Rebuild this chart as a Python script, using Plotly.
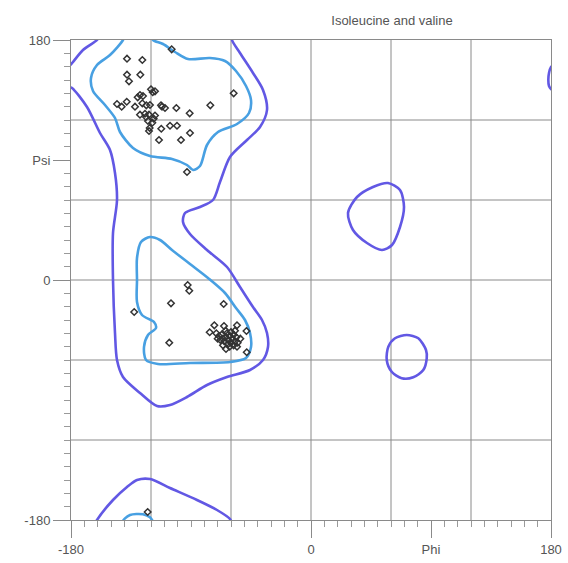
import plotly.graph_objects as go

title_text = "Isoleucine and valine"
x_tick_vals = [-180, 0, 90, 180]
x_tick_text = ["-180", "0", "Phi", "180"]
y_tick_vals = [-180, 0, 90, 180]
y_tick_text = ["-180", "0", "Psi", "180"]
grid_vals = [-120, -60, 0, 60, 120]

# Outer (dark) contour pieces
outer_main_phi = [-159.5, -160.5, -171, -178.5, -182, -182, -179.25, -168, -158.25, -150.75, -147, -145.5,
                  -148.5, -148.5, -147, -145.5, -141, -128.25, -115.5, -105.75, -93, -78, -63, -45.75, -36,
                  -32.25, -33, -36.75, -43.5, -53.25, -63, -78, -90.75, -96, -94.5, -83.25, -73.5, -68.25,
                  -60.75, -48, -38.25, -33, -36, -43.5, -53.25, -59.25, -58.5]
outer_main_psi = [182, 180, 172.5, 163.5, 159, 145, 144, 129.75, 110.25, 97.5, 80.25, 60,
                  35.25, 0, -39.75, -60, -72.75, -84.75, -94.5, -93.75, -87.75, -78.75, -72.75, -67.5, -60,
                  -50.25, -39.75, -30, -20.25, -5.25, 9.75, 22.5, 34.5, 43.5, 50.25, 54.75, 60, 73.5,
                  92.25, 105, 114.75, 127.5, 142.5, 155.25, 170.25, 180, 182]
outer_bottom_phi = [-161.5, -160.5, -148.5, -138, -130.5, -120.75, -105.75, -85.5, -70.5, -60.75, -59.5]
outer_bottom_psi = [-182, -180, -165, -155.25, -150, -149.25, -156, -165, -172.5, -179.25, -182]
outer_edge_phi = [182, 180, 178.5, 178, 178.5, 180, 182]
outer_edge_psi = [161, 159.75, 155.25, 150, 145.5, 143.25, 142]
outer_island_phi = [57.75, 46.5, 34.5, 27.75, 31.5, 42, 53.25, 60.75, 66.75, 69.75, 66.75, 57.75]
outer_island_psi = [72.75, 69.75, 62.25, 50.25, 37.5, 27.75, 22.5, 26.25, 39.75, 54.75, 67.5, 72.75]
outer_ring_phi = [71.8, 80.5, 86.25, 86.8, 84.2, 76.7, 68, 60.5, 56.8, 58, 63, 71.8]
outer_ring_psi = [-41.25, -43.7, -52.5, -58.7, -67.5, -73, -73.7, -68.8, -60, -50, -43.7, -41.25]

# Inner (light) contour pieces
inner_top_phi = [-140, -141, -150.75, -160.5, -165, -163.5, -154.5, -147, -143.25, -133.5, -120.75, -104.25,
                 -93, -88.5, -83.25, -78, -69.75, -55.5, -46.5, -45, -48.75, -56.25, -64.5, -75.75, -92.25,
                 -102, -111, -118.5, -119.5]
inner_top_psi = [183, 180, 168.75, 161.25, 151.5, 141.75, 131.25, 121.5, 111, 99, 93, 90.75,
                 86.25, 82.5, 85.5, 101.25, 111, 117, 125.25, 135, 145.5, 156.75, 164.25, 166.5, 165.75,
                 171, 177, 180, 183]
inner_bottom_phi = [-142, -139.5, -135.75, -131, -126, -120.75, -118]
inner_bottom_psi = [-182, -178.75, -176.25, -175.5, -175.75, -178, -182]
inner_mid_phi = [-120.75, -127.5, -130.5, -130.5, -130.5, -126.75, -117.75, -116.25, -122.25, -125.25, -123.75,
                 -114.75, -90.75, -60.75, -48.75, -45, -45.75, -49.5, -56.25, -64.5, -77.25, -90.75, -104.25,
                 -113.25, -120.75]
inner_mid_psi = [32.25, 28.5, 16.5, 0, -16.5, -26.25, -31.5, -36, -41.25, -50.25, -60,
                 -63, -62.25, -61.5, -58.5, -50.25, -39.75, -30, -21, -9.75, 1.5, 12, 22.5,
                 30, 32.25]

# Residue points
point_phi = [-138, -126.5, -104.5, -138, -128, -136.5, -120, -117, -118.7, -128.25, -130, -126, -58,
             -145.5, -142, -138.2, -132, -126.5, -123.5, -120.75, -112.5, -109.5, -111.75, -101, -75.5,
             -91, -128.25, -124.5, -121.5, -118, -119, -121, -121.5, -105.75, -100.5, -112.3, -90.75,
             -114, -97.5, -93, -123.75, -117, -122.25,
             -92.5, -91.3, -105, -132.6, -65.5, -106.3, -72.5, -65.25, -55.5, -48.4, -76, -48.2, -63.75,
             -55.5, -71, -69, -67, -66, -64, -63, -62, -61, -60, -59, -58, -57, -56, -55, -65, -68, -62,
             -60, -64, -58, -53, -70, -66, -61, -57, -122.5]
point_psi = [166, 165, 173, 154, 154, 149, 143, 141.5, 140.8, 138.75, 137, 138, 140,
             132, 130, 133.7, 130, 132.5, 131, 131.25, 131, 129, 130, 129, 131,
             125, 124, 124.7, 124, 121, 118, 114, 111.75, 115.7, 115.7, 113.4, 110.25,
             105, 105, 81, 122.25, 123.4, 119.25,
             -3.75, -8, -17.5, -24, -18, -47, -34, -34.5, -34, -38.25, -39.2, -54.2, -51.75,
             -50, -40, -42, -41, -44, -43, -40, -45, -42, -47, -44, -41, -46, -43, -47, -46, -45, -48,
             -39, -38, -49, -44, -44, -49, -50, -38, -174]

DARK = "rgb(98,88,228)"
LIGHT = "rgb(72,160,226)"

fig = go.Figure()

def add_line(xs, ys, color):
    fig.add_trace(go.Scatter(x=xs, y=ys, mode="lines",
                             line=dict(color=color, width=2.6, shape="spline", smoothing=0.8),
                             hoverinfo="skip", showlegend=False))

for xs, ys in [(outer_main_phi, outer_main_psi), (outer_bottom_phi, outer_bottom_psi),
               (outer_edge_phi, outer_edge_psi), (outer_island_phi, outer_island_psi),
               (outer_ring_phi, outer_ring_psi)]:
    add_line(xs, ys, DARK)
for xs, ys in [(inner_top_phi, inner_top_psi), (inner_bottom_phi, inner_bottom_psi),
               (inner_mid_phi, inner_mid_psi)]:
    add_line(xs, ys, LIGHT)

fig.add_trace(go.Scatter(x=point_phi, y=point_psi, mode="markers",
                         marker=dict(symbol="diamond-open", size=5, color="#333333", line=dict(width=1.5)),
                         showlegend=False))

for v in grid_vals:
    fig.add_shape(type="line", xref="x", yref="paper", x0=v, x1=v, y0=0, y1=1,
                  line=dict(color="#8a8a8a", width=1), layer="below")
    fig.add_shape(type="line", xref="paper", yref="y", x0=0, x1=1, y0=v, y1=v,
                  line=dict(color="#8a8a8a", width=1), layer="below")

axis_common = dict(range=[-180, 180], showgrid=False, zeroline=False, showline=True, mirror=True,
                   linecolor="#8a8a8a", linewidth=1, tickmode="array", ticks="outside",
                   ticklen=17, tickcolor="#8a8a8a", tickwidth=1,
                   tickfont=dict(family="Liberation Sans, Arial", size=13, color="#555555"),
                   minor=dict(tick0=-180, dtick=10, ticks="outside", ticklen=6, tickcolor="#9a9a9a",
                              tickwidth=1, showgrid=False))

fig.update_xaxes(tickvals=x_tick_vals, ticktext=x_tick_text, **axis_common)
fig.update_yaxes(tickvals=y_tick_vals, ticktext=y_tick_text, **axis_common)

fig.update_layout(
    width=568, height=563,
    margin=dict(l=71, r=17, t=40, b=43, autoexpand=False),
    paper_bgcolor="white", plot_bgcolor="white",
    title=dict(text=title_text, x=392 / 568, xanchor="center", y=1 - 20 / 563, yanchor="middle",
               font=dict(family="Liberation Sans, Arial", size=13, color="#555555")),
)

fig.write_html("out.html", config={"displayModeBar": False},
               post_script="document.body.style.margin='0';document.documentElement.style.overflow='hidden';")
